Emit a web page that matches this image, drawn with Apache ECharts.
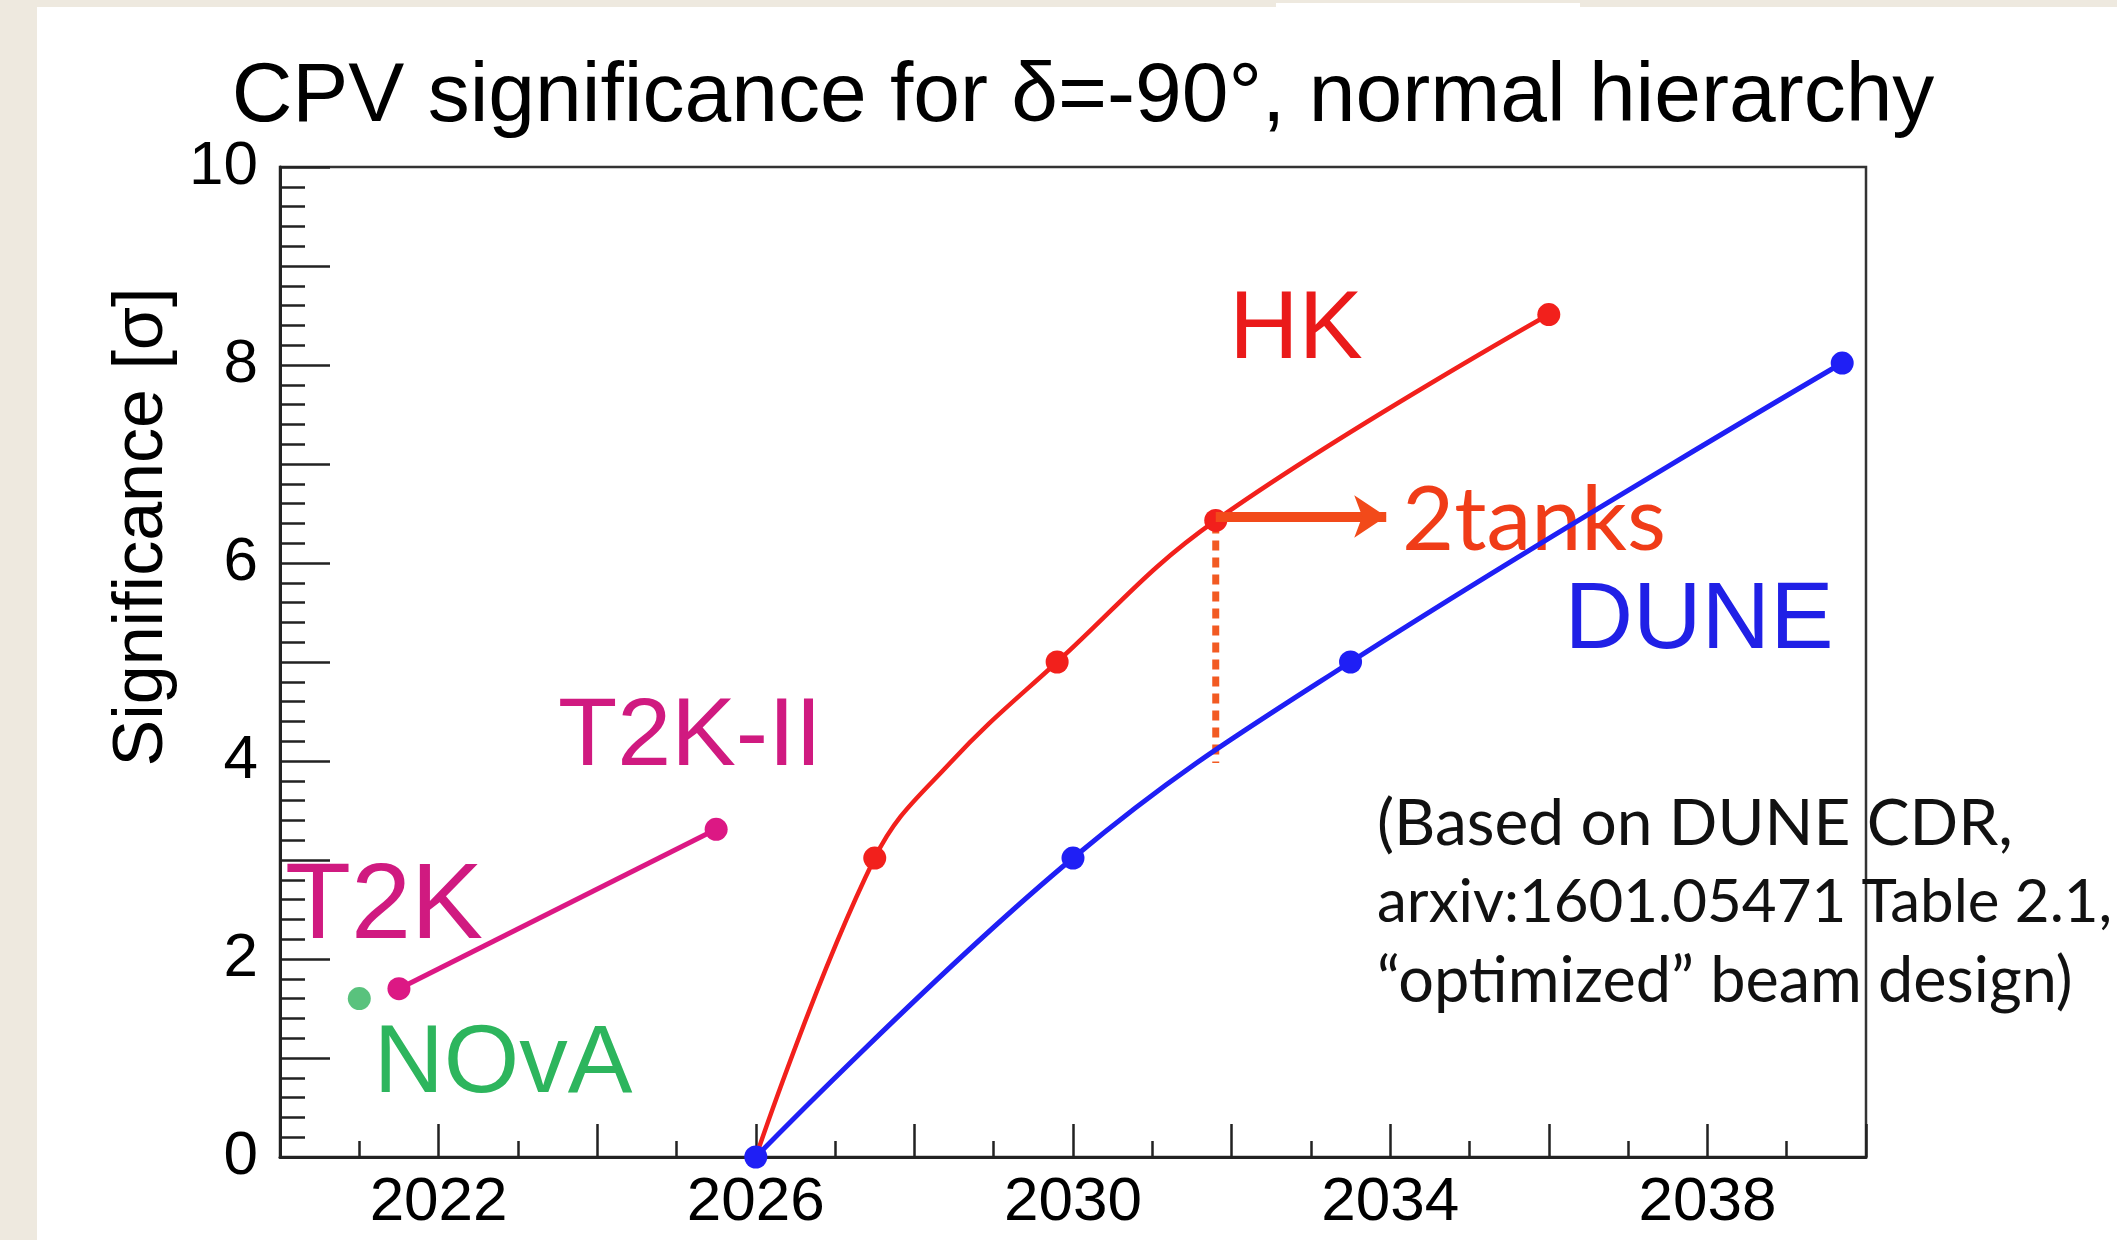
<!DOCTYPE html>
<html>
<head>
<meta charset="utf-8">
<script src="https://cdn.jsdelivr.net/npm/echarts@6/dist/echarts.min.js"></script>
<style>
html,body{margin:0;padding:0;background:#ffffff;}
#chart{width:2117px;height:1240px;}
</style>
</head>
<body>
<div id="chart"></div>
<script>
// ---- data ----
// HK curve: marker points plus one point at its bend
const hkYears = [2026, 2027.5, 2028.45, 2029.8, 2031.8, 2036.0];
const hkSig = [0, 3.02, 3.98, 5.0, 6.43, 8.51];
const hkMarked = [false, true, false, true, true, true];
const duneYears = [2026, 2030.0, 2033.5, 2039.7];
const duneSig = [0, 3.02, 5.0, 8.02];
const t2kYears = [2021.5, 2025.5];
const t2kSig = [1.7, 3.31];
const novaYears = [2021.0];
const novaSig = [1.6];
const dottedYears = [2031.8, 2031.8];
const dottedSig = [6.4, 3.98];
const arrowYears = [2031.8, 2033.95];
const arrowSig = [6.47, 6.47];
const xTickLabels = [2022, 2026, 2030, 2034, 2038];
const yTickLabels = [0, 2, 4, 6, 8, 10];

const SANS = "'Liberation Sans', Arial, Helvetica, sans-serif";
const HUM = "Lato, 'Open Sans', sans-serif";

const pairs = (xs, ys) => xs.map((x, i) => [x, ys[i]]);

const chart = echarts.init(document.getElementById('chart'), null, {renderer: 'canvas'});

const hkData = pairs(hkYears, hkSig).map((p, i) => hkMarked[i] ? p : {value: p, symbol: 'none'});

const option = {
  backgroundColor: '#ffffff',
  animation: false,
  title: {
    text: 'CPV significance for δ=-90°, normal hierarchy',
    left: 1083, top: 56, padding: 0,
    textAlign: 'center',
    textStyle: {fontFamily: SANS, fontSize: 84, fontWeight: 'normal', color: '#000'}
  },
  grid: {
    left: 280, top: 167, right: 251, bottom: 83,
    show: true, borderColor: '#333', borderWidth: 2.5, backgroundColor: 'transparent',
    containLabel: false
  },
  xAxis: {
    type: 'value', min: 2020, max: 2040, interval: 2,
    axisLine: {show: true, onZero: false, lineStyle: {color: '#222', width: 3}},
    axisTick: {show: true, inside: true, length: 33, lineStyle: {color: '#222', width: 2.5}},
    minorTick: {show: true, splitNumber: 2, length: 16, lineStyle: {color: '#222', width: 2.5}},
    splitLine: {show: false}, minorSplitLine: {show: false},
    axisLabel: {
      margin: 15, fontFamily: SANS, fontSize: 62, color: '#000',
      formatter: v => xTickLabels.indexOf(v) >= 0 ? String(v) : ''
    }
  },
  yAxis: {
    type: 'value', min: 0, max: 10, interval: 1,
    axisLine: {show: true, onZero: false, lineStyle: {color: '#222', width: 3}},
    axisTick: {show: true, inside: true, length: 50, lineStyle: {color: '#222', width: 2.5}},
    minorTick: {show: true, splitNumber: 5, length: 25, lineStyle: {color: '#222', width: 2.5}},
    splitLine: {show: false}, minorSplitLine: {show: false},
    axisLabel: {
      margin: 22, fontFamily: SANS, fontSize: 62, color: '#000', padding: [16, 0, 0, 0],
      formatter: v => yTickLabels.indexOf(v) >= 0 ? String(v) : ''
    }
  },
  graphic: [
    {type: 'rect', left: 0, top: 0, shape: {width: 37, height: 1240}, style: {fill: '#eee9df'}, z: 100},
    {type: 'rect', left: 0, top: 0, shape: {width: 2117, height: 7}, style: {fill: '#eee9df'}, z: 100},
    {type: 'rect', left: 1276, top: 3, shape: {width: 304, height: 4}, style: {fill: '#ffffff'}, z: 101},
    {type: 'text', x: 143, y: 527, rotation: Math.PI / 2, z: 1, style: {text: 'Significance [σ]', fill: '#000', font: '70px ' + SANS, textAlign: 'center', textVerticalAlign: 'middle'}},
    {type: 'text', x: 1296, y: 332, z: 1, style: {text: 'HK', fill: '#ea1a1a', font: '96px ' + SANS, textAlign: 'center', textVerticalAlign: 'middle'}},
    {type: 'text', x: 1534, y: 521, z: 1, style: {text: '2tanks', fill: '#f03c18', font: '90px ' + HUM, textAlign: 'center', textVerticalAlign: 'middle'}},
    {type: 'text', x: 1699, y: 622, z: 1, style: {text: 'DUNE', fill: '#2020e6', font: '95px ' + SANS, textAlign: 'center', textVerticalAlign: 'middle'}},
    {type: 'text', x: 690, y: 738, z: 1, style: {text: 'T2K-II', fill: '#d01a80', font: '97px ' + SANS, textAlign: 'center', textVerticalAlign: 'middle'}},
    {type: 'text', x: 384, y: 908, z: 1, style: {text: 'T2K', fill: '#d01a80', font: '108px ' + SANS, textAlign: 'center', textVerticalAlign: 'middle'}},
    {type: 'text', x: 503, y: 1065, z: 1, style: {text: 'NOvA', fill: '#2db55d', font: '97px ' + SANS, textAlign: 'center', textVerticalAlign: 'middle'}},
    {type: 'text', x: 1377, y: 824, z: 1, style: {text: '(Based on DUNE CDR,', fill: '#111', font: '64px ' + HUM, textAlign: 'left', textVerticalAlign: 'middle'}},
    {type: 'text', x: 1377, y: 903, z: 1, style: {text: 'arxiv:1601.05471 Table 2.1,', fill: '#111', font: '60px ' + HUM, textAlign: 'left', textVerticalAlign: 'middle'}},
    {type: 'text', x: 1377, y: 982, z: 1, style: {text: '\u201Coptimized\u201D beam design)', fill: '#111', font: '63px ' + HUM, textAlign: 'left', textVerticalAlign: 'middle'}}
  ],
  series: [
    {
      name: 'T2K', type: 'line', data: pairs(t2kYears, t2kSig), smooth: false,
      symbol: 'circle', symbolSize: 23, z: 3,
      lineStyle: {color: '#dc1884', width: 5}, itemStyle: {color: '#dc1884'}
    },
    {
      name: 'NOvA', type: 'scatter', data: pairs(novaYears, novaSig),
      symbol: 'circle', symbolSize: 23, z: 3, itemStyle: {color: '#2fb35c'}
    },
    {
      name: '2tanks dotted', type: 'line', data: pairs(dottedYears, dottedSig),
      symbol: 'none', z: 3,
      lineStyle: {color: '#f25a22', width: 7, type: [10, 7]}
    },
    {
      name: 'HK', type: 'line', data: hkData, smooth: 0.4,
      symbol: 'circle', symbolSize: 23, z: 4,
      lineStyle: {color: '#f2201c', width: 4.5}, itemStyle: {color: '#f2201c'},
      markLine: {
        silent: true, animation: false,
        symbol: ['none', 'arrow'], symbolSize: [32, 32],
        label: {show: false},
        lineStyle: {color: '#f24a1a', width: 10, type: 'solid'},
        data: [[{coord: [arrowYears[0], arrowSig[0]]}, {coord: [arrowYears[1], arrowSig[1]]}]]
      }
    },
    {
      name: 'DUNE', type: 'line', data: pairs(duneYears, duneSig), smooth: 0.4,
      symbol: 'circle', symbolSize: 23, z: 5,
      lineStyle: {color: '#1f1ff5', width: 5}, itemStyle: {color: '#1f1ff5'}
    }
  ]
};
chart.setOption(option);
</script>
</body>
</html>
